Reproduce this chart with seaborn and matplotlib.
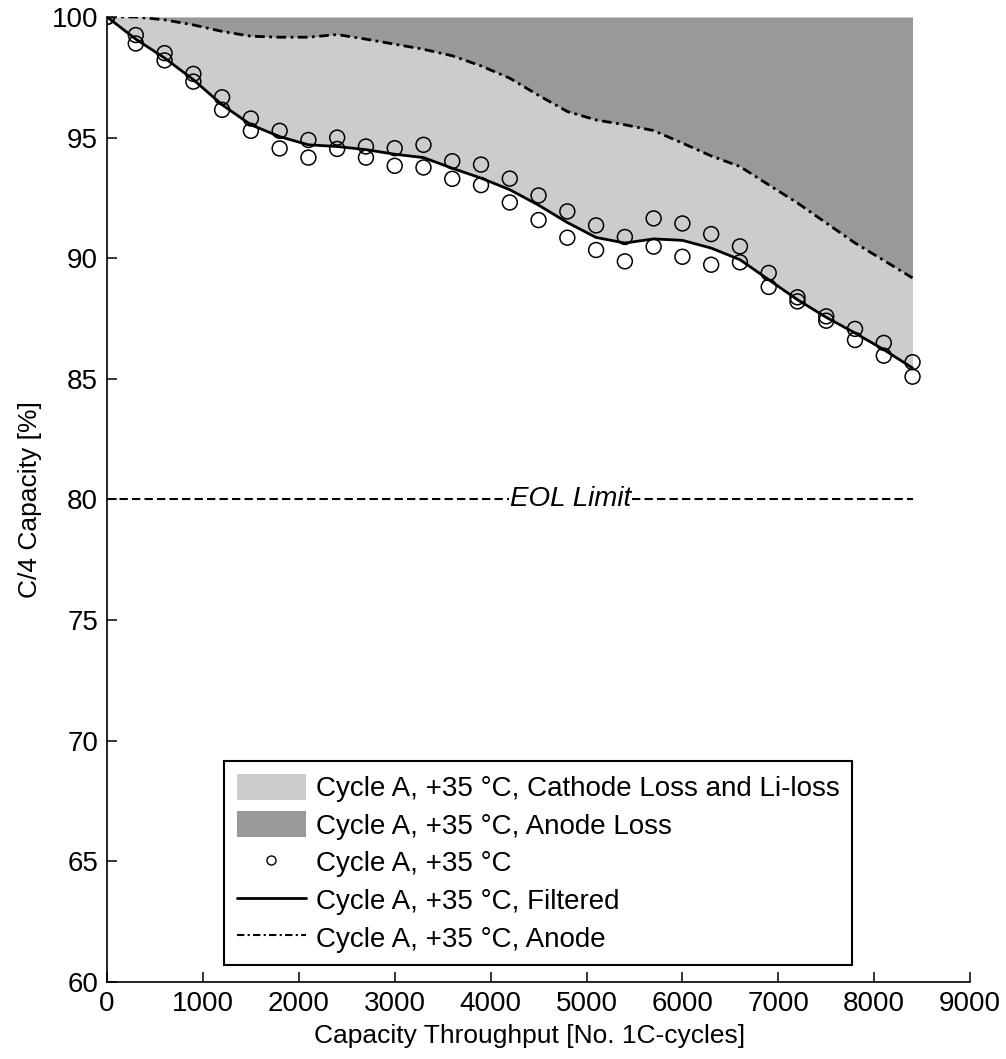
"""
Capacity fade of a Cycle A cell at +35 degC, with the loss split into
cathode/Li-loss and anode loss regions.
"""

import pandas as pd
import seaborn as sns
import matplotlib.pyplot as plt
from matplotlib.patches import Patch
from matplotlib.lines import Line2D

# Data
cycles = [0, 300, 600, 900, 1200, 1500, 1800, 2100, 2400, 2700, 3000, 3300,
          3600, 3900, 4200, 4500, 4800, 5100, 5400, 5700, 6000, 6300, 6600,
          6900, 7200, 7500, 7800, 8100, 8400]

# two measurements per checkpoint (upper / lower circle)
cap_upper = [100.0, 99.25, 98.5, 97.64, 96.67, 95.79, 95.28, 94.9, 95.0, 94.63,
             94.56, 94.7, 94.02, 93.88, 93.3, 92.6, 91.94, 91.36, 90.88, 91.65,
             91.44, 91.0, 90.49, 89.39, 88.38, 87.59, 87.07, 86.49, 85.69]
cap_lower = [100.0, 98.9, 98.2, 97.32, 96.15, 95.28, 94.55, 94.17, 94.53, 94.17,
             93.83, 93.76, 93.29, 93.03, 92.31, 91.58, 90.85, 90.34, 89.87, 90.48,
             90.06, 89.73, 89.83, 88.81, 88.21, 87.41, 86.61, 85.96, 85.09]

cap_filtered = [100.0, 99.08, 98.3, 97.4, 96.36, 95.53, 95.04, 94.7, 94.63, 94.5,
                94.31, 94.17, 93.73, 93.32, 92.84, 92.2, 91.48, 90.86, 90.63, 90.8,
                90.74, 90.42, 89.94, 89.11, 88.28, 87.55, 86.9, 86.21, 85.45]

cap_anode = [100.0, 100.0, 99.88, 99.67, 99.4, 99.2, 99.16, 99.16, 99.27, 99.08,
             98.87, 98.66, 98.39, 97.97, 97.46, 96.75, 96.08, 95.73, 95.53, 95.29,
             94.77, 94.24, 93.8, 93.04, 92.29, 91.46, 90.63, 89.91, 89.18]

EOL_LIMIT = 80
LABEL = "Cycle A, +35 \u00b0C"

LIGHT = "#cccccc"
DARK = "#999999"
FS = 20
LABEL_FS = 19
DASHDOT = (0, (3.5, 1.6, 1.0, 1.6))


def main():
    sns.set_style("ticks")
    plt.rcParams["font.family"] = ["Liberation Sans", "DejaVu Sans"]
    plt.rcParams.update({
        "font.size": FS,
        "text.color": "black",
        "axes.labelcolor": "black",
        "xtick.color": "black",
        "ytick.color": "black",
    })

    curves = pd.DataFrame({"cycles": cycles, "filtered": cap_filtered,
                           "anode": cap_anode})
    points = pd.DataFrame({"cycles": cycles + cycles,
                           "capacity": cap_upper + cap_lower})

    fig = plt.figure(figsize=(10.06, 10.59), dpi=100)
    ax = fig.add_axes([0.1064, 0.0727, 0.8579, 0.9113])

    # loss regions
    ax.fill_between(curves["cycles"], curves["filtered"], curves["anode"],
                    color=LIGHT, lw=0, zorder=1)
    ax.fill_between(curves["cycles"], curves["anode"], 100,
                    color=DARK, lw=0, zorder=1)

    sns.lineplot(data=curves, x="cycles", y="anode", color="black", lw=2.0,
                 linestyle=DASHDOT, ax=ax, zorder=3, legend=False)
    sns.lineplot(data=curves, x="cycles", y="filtered", color="black", lw=2.0,
                 ax=ax, zorder=3, legend=False)
    sns.scatterplot(data=points, x="cycles", y="capacity", marker="o", s=115,
                    facecolor="none", edgecolor="black", linewidth=1.1,
                    ax=ax, zorder=4, legend=False)

    # end-of-life limit
    ax.plot([0, cycles[-1]], [EOL_LIMIT, EOL_LIMIT], color="black", lw=1.5,
            linestyle=(0, (4, 2)), zorder=2)
    ax.text(4200, EOL_LIMIT, "EOL Limit", style="italic", fontsize=FS,
            ha="left", va="center", zorder=2,
            bbox=dict(facecolor="white", edgecolor="none", pad=0.5))

    ax.set_xlim(0, 9000)
    ax.set_ylim(60, 100)
    ax.set_xticks(range(0, 9001, 1000))
    ax.set_yticks(range(60, 101, 5))

    sns.despine(ax=ax)
    for side in ("left", "bottom"):
        ax.spines[side].set_linewidth(1.2)
        ax.spines[side].set_color("black")
    ax.tick_params(direction="in", length=7.5, width=1.1, labelsize=FS,
                   pad=6.5, colors="black")

    ax.set_xlabel("Capacity Throughput [No. 1C-cycles]", fontsize=LABEL_FS)
    ax.set_ylabel("C/4 Capacity [%]", fontsize=LABEL_FS)
    ax.xaxis.set_label_coords(0.489, -0.043)
    ax.yaxis.set_label_coords(-0.075, 0.5)

    handles = [
        Patch(facecolor=LIGHT, edgecolor="none"),
        Patch(facecolor=DARK, edgecolor="none"),
        Line2D([], [], ls="none", marker="o", markersize=6.5,
               markerfacecolor="none", markeredgecolor="black",
               markeredgewidth=1.0),
        Line2D([], [], color="black", lw=2.0),
        Line2D([], [], color="black", lw=1.5, linestyle=DASHDOT),
    ]
    labels = [f"{LABEL}, Cathode Loss and Li-loss", f"{LABEL}, Anode Loss",
              LABEL, f"{LABEL}, Filtered", f"{LABEL}, Anode"]
    leg = ax.legend(handles, labels, loc="lower left",
                    bbox_to_anchor=(0.1356, 0.0176), borderaxespad=0,
                    fontsize=FS, handlelength=2.5, handleheight=1.06,
                    handletextpad=0.35, labelspacing=0.33, borderpad=0.45,
                    fancybox=False, framealpha=1, edgecolor="black")
    leg.get_frame().set_linewidth(1.5)

    fig.savefig("out.png", dpi=100)


if __name__ == "__main__":
    main()
